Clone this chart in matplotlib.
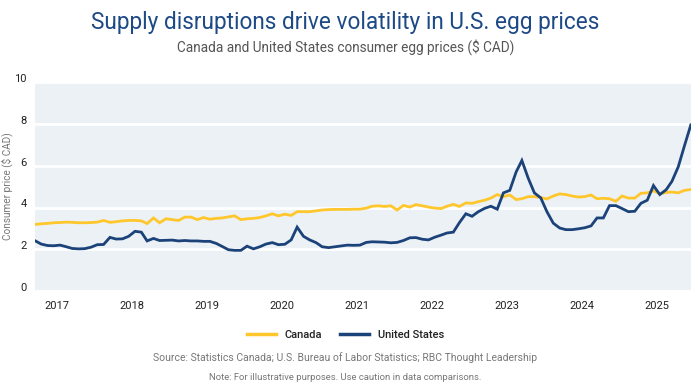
import numpy as np
import pandas as pd
import matplotlib
matplotlib.use("Agg")
import matplotlib.pyplot as plt
import matplotlib.dates as mdates
from matplotlib.lines import Line2D
from matplotlib.transforms import ScaledTranslation

plt.rcParams['font.family'] = ['Roboto', 'DejaVu Sans']

# --- data: monthly consumer egg prices ($ CAD), Sep 2016 .. Jun 2025 -------
canada = [
    3.19, 3.22, 3.24, 3.27, 3.28, 3.30, 3.29, 3.27, 3.27, 3.28,
    3.30, 3.38, 3.29, 3.32, 3.36, 3.38, 3.38, 3.36, 3.23, 3.50,
    3.27, 3.46, 3.42, 3.38, 3.54, 3.54, 3.42, 3.52, 3.44, 3.48,
    3.50, 3.55, 3.60, 3.42, 3.46, 3.48, 3.52, 3.60, 3.70, 3.60,
    3.68, 3.62, 3.80, 3.80, 3.80, 3.84, 3.88, 3.90, 3.91, 3.91,
    3.91, 3.92, 3.92, 3.97, 4.06, 4.08, 4.05, 4.08, 3.88, 4.10,
    4.02, 4.14, 4.08, 4.02, 3.97, 3.95, 4.06, 4.15, 4.05, 4.22,
    4.20, 4.28, 4.35, 4.45, 4.62, 4.52, 4.60, 4.38, 4.42, 4.52,
    4.52, 4.48, 4.41, 4.55, 4.65, 4.62, 4.55, 4.50, 4.52, 4.60,
    4.42, 4.44, 4.42, 4.30, 4.55, 4.45, 4.45, 4.68, 4.70, 4.80,
    4.66, 4.72, 4.74, 4.70, 4.82, 4.86,
]
united_states = [
    2.41, 2.25, 2.18, 2.17, 2.20, 2.12, 2.04, 2.02, 2.03, 2.10,
    2.22, 2.23, 2.57, 2.49, 2.50, 2.62, 2.86, 2.82, 2.40, 2.52,
    2.42, 2.43, 2.44, 2.40, 2.42, 2.40, 2.40, 2.38, 2.38, 2.28,
    2.14, 1.98, 1.95, 1.95, 2.15, 2.02, 2.12, 2.25, 2.32, 2.22,
    2.24, 2.45, 3.06, 2.62, 2.45, 2.32, 2.12, 2.08, 2.12, 2.16,
    2.20, 2.19, 2.20, 2.33, 2.36, 2.35, 2.34, 2.31, 2.33, 2.42,
    2.55, 2.56, 2.48, 2.45, 2.58, 2.68, 2.78, 2.82, 3.28, 3.70,
    3.58, 3.80, 3.96, 4.06, 3.92, 4.70, 4.82, 5.70, 6.25, 5.40,
    4.70, 4.46, 3.80, 3.25, 3.02, 2.94, 2.94, 2.98, 3.03, 3.12,
    3.50, 3.50, 4.09, 4.09, 3.95, 3.80, 3.82, 4.20, 4.35, 5.05,
    4.62, 4.85, 5.25, 5.95, 6.95, 7.95,
]
months = pd.date_range("2016-09-01", periods=len(canada), freq="MS") + pd.Timedelta(days=14)
y_ticks = [0, 2, 4, 6, 8, 10]

YELLOW = "#FFC72C"
NAVY = "#1B4279"
BG = "#ECF1F6"

fig = plt.figure(figsize=(6.91, 3.82), dpi=100)
ax = fig.add_axes([0.0507, 0.238, 0.949, 0.547])
ax.set_facecolor(BG)

ax.plot(months, canada, color=YELLOW, lw=2.0, solid_joinstyle="miter")
ax.plot(months, united_states, color=NAVY, lw=2.0, solid_joinstyle="miter")

ax.set_xlim(months[0], months[-1])
ax.set_ylim(0, 10)
ax.set_yticks(y_ticks)
ax.grid(axis="y", color="white", lw=2)
ax.set_axisbelow(True)
ax.xaxis.set_major_locator(mdates.YearLocator())
ax.xaxis.set_major_formatter(mdates.DateFormatter("%Y"))
ax.tick_params(length=0, labelsize=8, labelcolor="#222222")
ax.tick_params(axis="y", pad=6)
ax.tick_params(axis="x", pad=7)
for s in ax.spines.values():
    s.set_visible(False)
shift = ScaledTranslation(0, 3 / 72, fig.dpi_scale_trans)
for lbl in ax.get_yticklabels():
    lbl.set_transform(lbl.get_transform() + shift)
ax.set_ylabel("Consumer price ($ CAD)", fontsize=7.2, color="#777777", va="center")
ax.yaxis.set_label_coords(-0.043, 0.5)

fig.text(0.5, 0.94, "Supply disruptions drive volatility in U.S. egg prices",
         ha="center", va="center", fontsize=16.3, color="#1D4A86")
fig.text(0.5, 0.878, "Canada and United States consumer egg prices ($ CAD)",
         ha="center", va="center", fontsize=9.8, color="#555555")

handles = [Line2D([], [], color=YELLOW, lw=2.5), Line2D([], [], color=NAVY, lw=2.5)]
leg = fig.legend(handles, ["Canada", "United States"], loc="center",
                 bbox_to_anchor=(0.5, 1 - 335 / 382), ncol=2, frameon=False,
                 fontsize=8, handlelength=2.6, columnspacing=1.6, handletextpad=0.8)
for t in leg.get_texts():
    t.set_fontweight("medium")
    t.set_color("#222222")

fig.text(0.5, 1 - 358 / 382, "Source: Statistics Canada; U.S. Bureau of Labor Statistics; RBC Thought Leadership",
         ha="center", va="center", fontsize=7.5, color="#777777")
fig.text(0.5, 1 - 377 / 382, "Note: For illustrative purposes. Use caution in data comparisons.",
         ha="center", va="center", fontsize=6.8, color="#777777")

fig.savefig("out.png", dpi=100)
